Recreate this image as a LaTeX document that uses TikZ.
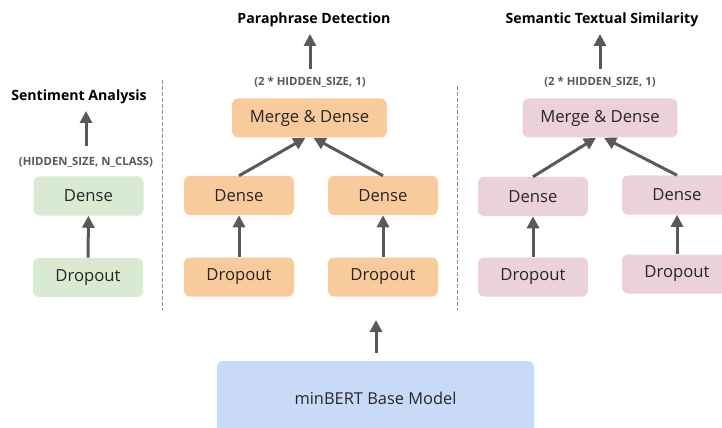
\documentclass[tikz,border=0pt]{standalone}
\usepackage{fontspec}
\setmainfont{Open Sans}
\usepackage{tikz}
\usetikzlibrary{arrows.meta,calc}
\definecolor{GreenBox}{RGB}{217,234,211}
\definecolor{OrangeBox}{RGB}{249,203,156}
\definecolor{PinkBox}{RGB}{234,209,220}
\definecolor{BlueBox}{RGB}{201,218,248}
\definecolor{ArrowGray}{RGB}{89,89,89}
\definecolor{TextGray}{RGB}{38,38,38}
\definecolor{DashGray}{RGB}{140,140,140}

\tikzset{
  box/.style={rounded corners=4.5pt,minimum width=82.5pt,minimum height=29.25pt,
    inner sep=0pt,text=TextGray,font=\fontsize{12.5}{15}\selectfont},
  wide/.style={box,minimum width=116pt},
  task/.style={inner sep=0pt,font=\bfseries\fontsize{10.6}{12}\selectfont},
  shp/.style={inner sep=0pt,text=ArrowGray,font=\bfseries\fontsize{8.5}{10}\selectfont},
  flow/.style={->,line width=2.25pt,ArrowGray},
  sep/.style={DashGray,line width=0.75pt,dash pattern=on 3pt off 1.5pt}
}

\begin{document}
\begin{tikzpicture}[x=0.75pt,y=-0.75pt,>={Triangle[width=9pt,length=9pt]}]
  \useasboundingbox (0,0) rectangle (722,428);
  \clip (0,0) rectangle (722,428);

  \node[box,fill=BlueBox,minimum width=237.75pt,minimum height=55.5pt,font=\fontsize{12.3}{15}\selectfont] (base) at (375.5,398) {minBERT Base Model};
  \coordinate (baseTop) at (376,320);
  \draw[flow,shorten <=6pt] (base.north -| baseTop) -- (baseTop);

  \node[box,fill=GreenBox] (saDrop) at (88,277.5) {Dropout};
  \node[box,fill=GreenBox] (saDense) at (88.5,196) {Dense};
  \node[shp] (saShape) at (86,162) {(HIDDEN\_SIZE, N\_CLASS)};
  \node[task] (saTask) at (79,97) {Sentiment Analysis};
  \draw[flow] (saDrop) -- (saDense);
  \draw[flow,shorten <=8pt,shorten >=5pt] (saShape.north) -- (saShape.north |- saTask.south);

  \node[box,fill=OrangeBox] (pdDropL) at (239,277) {Dropout};
  \node[box,fill=OrangeBox] (pdDropR) at (383,277) {Dropout};
  \node[box,fill=OrangeBox] (pdDenseL) at (239,195.5) {Dense};
  \node[box,fill=OrangeBox] (pdDenseR) at (383,195.5) {Dense};
  \node[wide,fill=OrangeBox] (pdMerge) at (309.5,118) {Merge \& Dense};
  \node[shp] (pdShape) at (310,82) {(2 * HIDDEN\_SIZE, 1)};
  \node[task] (pdTask) at (314,20) {Paraphrase Detection};
  \draw[flow] (pdDropL) -- (pdDenseL);
  \draw[flow] (pdDropR) -- (pdDenseR);
  \draw[flow] (pdDenseL.north) -- ([xshift=-3pt]pdMerge.south);
  \draw[flow] (pdDenseR.north) -- ([xshift=3pt]pdMerge.south);
  \draw[flow,shorten <=6pt,shorten >=5pt] (pdShape.north) -- (pdShape.north |- pdTask.south);

  \node[box,fill=PinkBox] (stsDropL) at (533,277) {Dropout};
  \node[box,fill=PinkBox] (stsDropR) at (677,274) {Dropout};
  \node[box,fill=PinkBox] (stsDenseL) at (533,196.5) {Dense};
  \node[box,fill=PinkBox] (stsDenseR) at (677,195) {Dense};
  \node[wide,fill=PinkBox] (stsMerge) at (600,118) {Merge \& Dense};
  \node[shp] (stsShape) at (600,82) {(2 * HIDDEN\_SIZE, 1)};
  \node[task] (stsTask) at (602,20) {Semantic Textual Similarity};
  \draw[flow] (stsDropL) -- (stsDenseL);
  \draw[flow] (stsDropR) -- (stsDenseR);
  \draw[flow] (stsDenseL.north) -- ([xshift=-3pt]stsMerge.south);
  \draw[flow] (stsDenseR.north) -- ([xshift=3pt]stsMerge.south);
  \draw[flow,shorten <=6pt,shorten >=5pt] (stsShape.north) -- (stsShape.north |- stsTask.south);

  \draw[sep] (162,80) -- (162,310);
  \draw[sep] (457,86) -- (457,310);
\end{tikzpicture}
\end{document}
